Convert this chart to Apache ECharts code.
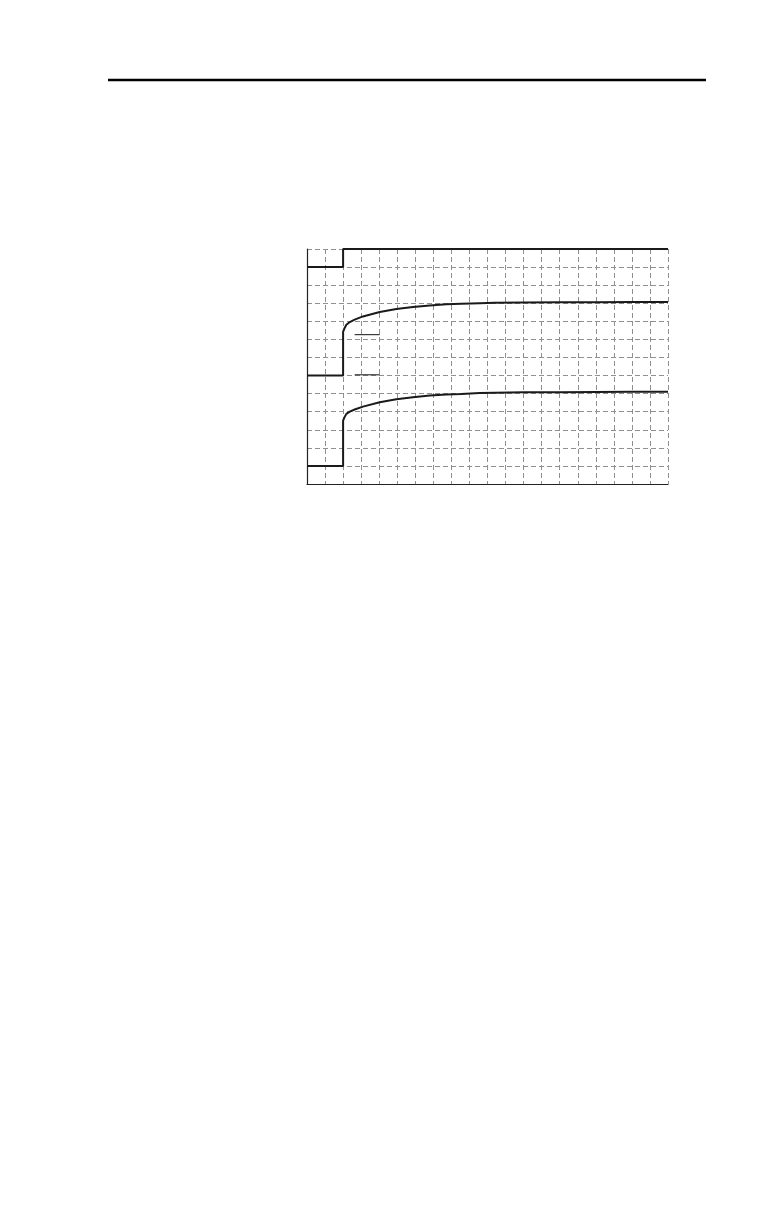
<!DOCTYPE html>
<html>
<head>
<meta charset="utf-8">
<script src="https://cdn.jsdelivr.net/npm/echarts@6/dist/echarts.min.js"></script>
<style>
html,body{margin:0;padding:0;background:#fff;}
#chart{width:774px;height:1206px;}
</style>
</head>
<body>
<div id="chart"></div>
<script>
// Horizontal axis: 20 divisions, vertical axis: 13 divisions
const xMin = 0, xMax = 20;
const yMin = 0, yMax = 13;

// Top trace: step input
const stepX = [0, 2, 2, 20];
const stepY = [12, 12, 13, 13];

// Sample times for the two response traces (divisions)
const curveX = [0, 2, 2, 2.08, 2.18, 2.37, 2.64, 3.1, 4.03, 4.95, 5.87, 6.8, 7.72, 8.55, 9.57, 10.4, 12, 14, 16, 18, 20];
// Middle trace
const middleY = [6, 6, 8.41, 8.62, 8.81, 8.96, 9.09, 9.27, 9.51, 9.68, 9.79, 9.88, 9.94, 9.97, 10.0, 10.02, 10.04, 10.05, 10.06, 10.07, 10.07];
// Bottom trace
const bottomY = [1, 1, 3.5, 3.7, 3.88, 4.0, 4.12, 4.28, 4.52, 4.69, 4.8, 4.89, 4.95, 4.98, 5.03, 5.05, 5.07, 5.08, 5.09, 5.1, 5.1];

// Short reference markers
const markerX = [2.64, 4.03];
const markerUpperY = [8.26, 8.26];
const markerLowerY = [6.04, 6.04];

function pairs(xs, ys) { return xs.map((x, i) => [x, ys[i]]); }

const chart = echarts.init(document.getElementById('chart'), null, {renderer: 'canvas'});
const traceStyle = {color: '#1a1a1a', width: 2};
const gridStyle = {color: '#909090', width: 1, type: [5, 3]};
chart.setOption({
  animation: false,
  backgroundColor: '#ffffff',
  grid: {left: 307, right: 106, top: 249, bottom: 722, containLabel: false},
  xAxis: {
    type: 'value', min: xMin, max: xMax, interval: 1,
    axisLine: {show: true, lineStyle: {color: '#222', width: 1.2}},
    axisTick: {show: false}, axisLabel: {show: false},
    splitLine: {show: true, lineStyle: gridStyle}
  },
  yAxis: {
    type: 'value', min: yMin, max: yMax, interval: 1,
    axisLine: {show: true, onZero: false, lineStyle: {color: '#222', width: 1.2}},
    axisTick: {show: false}, axisLabel: {show: false},
    splitLine: {show: true, lineStyle: gridStyle}
  },
  graphic: [{
    type: 'line', shape: {x1: 108, y1: 80, x2: 706, y2: 80},
    style: {stroke: '#000', lineWidth: 2.5}
  }],
  series: [
    {type: 'line', data: pairs(stepX, stepY), symbol: 'none', clip: false, lineStyle: traceStyle},
    {type: 'line', data: pairs(curveX, middleY), symbol: 'none', clip: false, lineStyle: traceStyle},
    {type: 'line', data: pairs(curveX, bottomY), symbol: 'none', clip: false, lineStyle: traceStyle},
    {type: 'line', data: pairs(markerX, markerUpperY), symbol: 'none', lineStyle: {color: '#111', width: 1}},
    {type: 'line', data: pairs(markerX, markerLowerY), symbol: 'none', lineStyle: {color: '#111', width: 1}}
  ]
});
</script>
</body>
</html>
